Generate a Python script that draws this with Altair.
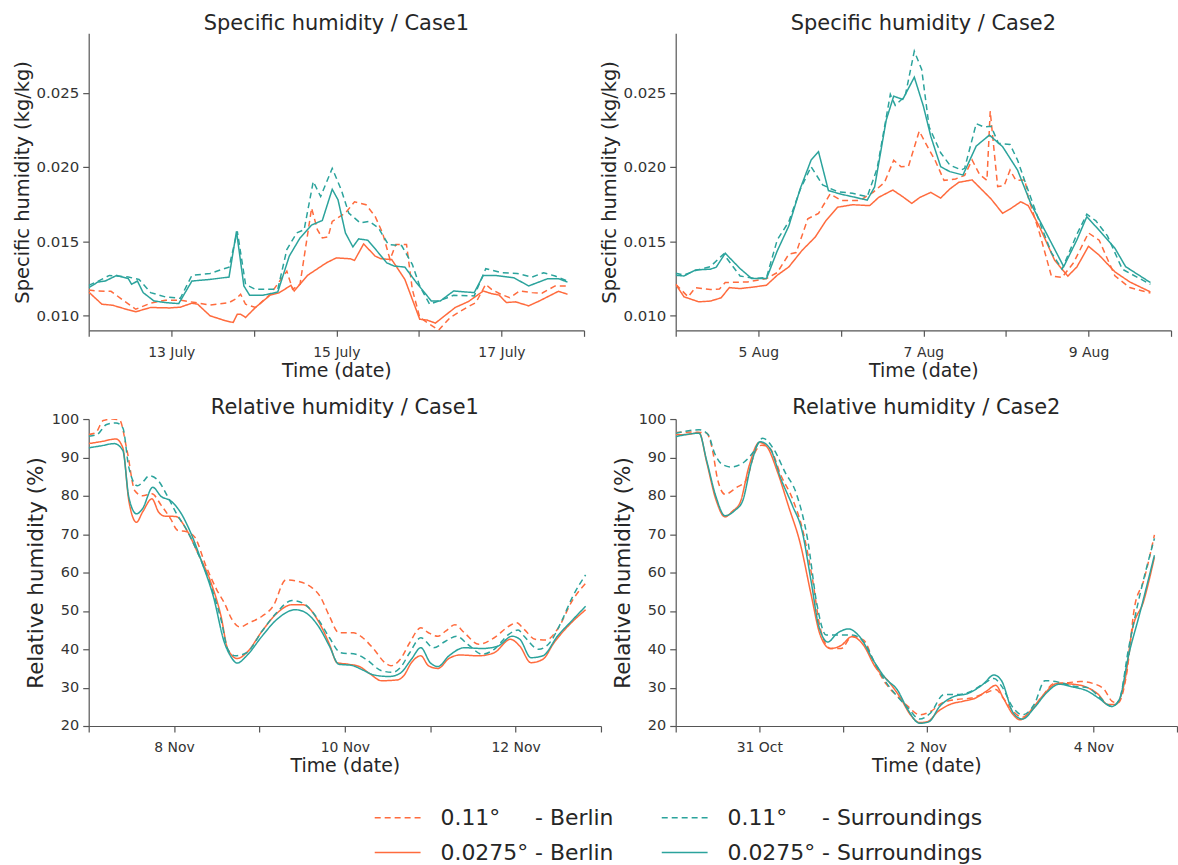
import altair as alt
import pandas as pd

# ---------------- series names / styles ----------------
SERIES = [
    "0.11°\u00a0\u00a0\u00a0\u00a0\u00a0- Berlin",
    "0.0275° - Berlin",
    "0.11°\u00a0\u00a0\u00a0\u00a0\u00a0- Surroundings",
    "0.0275° - Surroundings",
]
COLORS = ["#FF6B3D", "#FF6B3D", "#2BA39C", "#2BA39C"]
DASHES = [[6, 4], [1, 0], [6, 4], [1, 0]]

# ---------------- Specific humidity / Case1 (start 12 July) ----------------
SH1_START = "2019-07-12"
SH1_BER011_T = [0, 0.11, 0.27, 0.39, 0.57, 0.75, 0.93, 1.11, 1.29, 1.47, 1.70, 1.79, 1.84, 1.90, 2.02, 2.20, 2.40, 2.47, 2.56, 2.70, 2.77, 2.83, 2.90, 2.95, 3.11, 3.22, 3.36, 3.47, 3.56, 3.65, 3.72, 3.85, 3.92, 4.01, 4.13, 4.24, 4.38, 4.58, 4.69, 4.81, 4.88, 4.99, 5.10, 5.22, 5.37, 5.49, 5.65, 5.80]
SH1_BER011_V = [0.01172, 0.01165, 0.01163, 0.01114, 0.01042, 0.01083, 0.01103, 0.01103, 0.01087, 0.01071, 0.01087, 0.01114, 0.01143, 0.01076, 0.01054, 0.01143, 0.01299, 0.01176, 0.0121, 0.01723, 0.01578, 0.01522, 0.01529, 0.01634, 0.0169, 0.01766, 0.01746, 0.01667, 0.01556, 0.01377, 0.01478, 0.01478, 0.01176, 0.00987, 0.00942, 0.00902, 0.00987, 0.01054, 0.01087, 0.0121, 0.01176, 0.01143, 0.0112, 0.01165, 0.01154, 0.0115, 0.01199, 0.01199]
SH1_SUR011_T = [0, 0.11, 0.25, 0.48, 0.61, 0.75, 0.93, 1.11, 1.25, 1.47, 1.70, 1.80, 1.90, 2.02, 2.29, 2.40, 2.52, 2.61, 2.72, 2.81, 2.95, 3.06, 3.15, 3.29, 3.40, 3.51, 3.63, 3.79, 3.92, 4.01, 4.13, 4.24, 4.42, 4.67, 4.81, 5.01, 5.19, 5.37, 5.51, 5.65, 5.80]
SH1_SUR011_V = [0.01203, 0.0123, 0.0127, 0.01259, 0.01243, 0.01154, 0.01125, 0.01116, 0.0127, 0.01283, 0.01326, 0.01567, 0.0121, 0.01176, 0.01176, 0.01444, 0.01556, 0.01578, 0.01902, 0.01801, 0.01991, 0.01846, 0.0169, 0.01623, 0.01634, 0.01589, 0.01478, 0.01471, 0.01344, 0.01199, 0.01076, 0.01098, 0.01136, 0.01132, 0.01315, 0.01288, 0.01283, 0.01259, 0.01288, 0.01266, 0.01232]
SH1_BER0275_T = [0, 0.16, 0.29, 0.48, 0.57, 0.75, 0.98, 1.11, 1.25, 1.32, 1.47, 1.66, 1.75, 1.80, 1.84, 1.90, 2.02, 2.20, 2.31, 2.45, 2.49, 2.65, 2.88, 3.00, 3.17, 3.22, 3.33, 3.47, 3.54, 3.67, 3.83, 4.01, 4.10, 4.20, 4.44, 4.60, 4.78, 4.88, 4.97, 5.06, 5.17, 5.33, 5.46, 5.69, 5.80]
SH1_BER0275_V = [0.01158, 0.01076, 0.01069, 0.01038, 0.01025, 0.01054, 0.01051, 0.01056, 0.01083, 0.01076, 0.00998, 0.00964, 0.00953, 0.01009, 0.01009, 0.00987, 0.01054, 0.01138, 0.01154, 0.01203, 0.01165, 0.0127, 0.01355, 0.01388, 0.01382, 0.01371, 0.01482, 0.0140, 0.01382, 0.01377, 0.01243, 0.00975, 0.00969, 0.00949, 0.01054, 0.01094, 0.01165, 0.01147, 0.01138, 0.01087, 0.01092, 0.01065, 0.01098, 0.01163, 0.01143]
SH1_SUR0275_T = [0, 0.11, 0.20, 0.34, 0.48, 0.52, 0.59, 0.66, 0.79, 0.93, 1.09, 1.25, 1.47, 1.70, 1.79, 1.88, 1.95, 2.11, 2.29, 2.43, 2.56, 2.70, 2.83, 2.95, 3.02, 3.11, 3.20, 3.27, 3.38, 3.47, 3.61, 3.70, 3.83, 3.97, 4.15, 4.26, 4.42, 4.67, 4.78, 4.92, 5.15, 5.33, 5.56, 5.69, 5.80]
SH1_SUR0275_V = [0.01187, 0.01225, 0.01232, 0.0127, 0.01248, 0.0121, 0.01232, 0.01154, 0.01098, 0.01087, 0.0108, 0.01232, 0.01243, 0.01259, 0.01567, 0.01199, 0.01136, 0.01136, 0.01158, 0.014, 0.01522, 0.01609, 0.0164, 0.0185, 0.01779, 0.01556, 0.01462, 0.01516, 0.01507, 0.01449, 0.01355, 0.01333, 0.01326, 0.01221, 0.01098, 0.01098, 0.01165, 0.01154, 0.0127, 0.0127, 0.01254, 0.01199, 0.01248, 0.01248, 0.01225]

# ---------------- Specific humidity / Case2 (start 4 Aug) ----------------
SH2_START = "2019-08-04"
SH2_BER011_T = [0, 0.15, 0.24, 0.42, 0.53, 0.60, 0.87, 1.10, 1.23, 1.37, 1.46, 1.60, 1.73, 1.87, 2.01, 2.23, 2.39, 2.53, 2.64, 2.73, 2.82, 2.95, 3.05, 3.14, 3.25, 3.39, 3.50, 3.59, 3.68, 3.77, 3.81, 3.90, 3.98, 4.05, 4.12, 4.23, 4.27, 4.41, 4.55, 4.68, 4.82, 5.00, 5.13, 5.32, 5.50, 5.75]
SH2_BER011_V = [0.0121, 0.01126, 0.01188, 0.01175, 0.01179, 0.01222, 0.01226, 0.01249, 0.01289, 0.01413, 0.01424, 0.01651, 0.01688, 0.01818, 0.01774, 0.01774, 0.01829, 0.01897, 0.02045, 0.02002, 0.02006, 0.02242, 0.02137, 0.02047, 0.0191, 0.01919, 0.01944, 0.02047, 0.01951, 0.0191, 0.02376, 0.01868, 0.01875, 0.0198, 0.0191, 0.01913, 0.01796, 0.0155, 0.01267, 0.01256, 0.01356, 0.01556, 0.01507, 0.01267, 0.01188, 0.01151]
SH2_SUR011_T = [0, 0.10, 0.24, 0.42, 0.58, 0.78, 0.96, 1.10, 1.23, 1.37, 1.51, 1.64, 1.78, 1.96, 2.14, 2.32, 2.44, 2.60, 2.66, 2.78, 2.89, 2.98, 3.07, 3.21, 3.32, 3.46, 3.50, 3.64, 3.73, 3.82, 3.91, 4.05, 4.14, 4.25, 4.41, 4.55, 4.68, 4.86, 4.98, 5.09, 5.23, 5.41, 5.75]
SH2_SUR011_V = [0.01285, 0.01272, 0.01303, 0.01329, 0.01414, 0.01266, 0.01249, 0.01256, 0.01509, 0.01632, 0.0185, 0.02002, 0.01879, 0.01834, 0.01823, 0.018, 0.01991, 0.02489, 0.02415, 0.02478, 0.0278, 0.02657, 0.02269, 0.02096, 0.02013, 0.0198, 0.01991, 0.02292, 0.0227, 0.02274, 0.02159, 0.02152, 0.02047, 0.01872, 0.01626, 0.01424, 0.01312, 0.01547, 0.01682, 0.01637, 0.01536, 0.01312, 0.0121]
SH2_BER0275_T = [0, 0.10, 0.28, 0.42, 0.55, 0.65, 0.78, 0.96, 1.10, 1.23, 1.37, 1.53, 1.69, 1.82, 1.96, 2.14, 2.35, 2.46, 2.63, 2.75, 2.86, 2.96, 3.09, 3.21, 3.32, 3.43, 3.59, 3.68, 3.82, 3.96, 4.05, 4.18, 4.27, 4.41, 4.59, 4.75, 4.86, 5.00, 5.13, 5.32, 5.50, 5.75]
SH2_BER0275_V = [0.0121, 0.01126, 0.01092, 0.01097, 0.01119, 0.01188, 0.01181, 0.01193, 0.01204, 0.01271, 0.01327, 0.01438, 0.01528, 0.01639, 0.01729, 0.01746, 0.0174, 0.01796, 0.01845, 0.018, 0.01755, 0.01796, 0.01829, 0.01791, 0.01852, 0.01897, 0.01913, 0.01863, 0.01785, 0.01688, 0.01717, 0.01766, 0.0174, 0.01594, 0.01372, 0.01265, 0.01327, 0.01466, 0.01406, 0.01294, 0.01226, 0.01159]
SH2_SUR0275_T = [0, 0.10, 0.24, 0.42, 0.49, 0.60, 0.78, 0.92, 1.10, 1.23, 1.37, 1.51, 1.64, 1.73, 1.85, 2.01, 2.14, 2.32, 2.41, 2.55, 2.64, 2.75, 2.89, 3.00, 3.09, 3.21, 3.32, 3.48, 3.64, 3.80, 3.96, 4.14, 4.30, 4.50, 4.70, 4.86, 4.98, 5.09, 5.32, 5.45, 5.75]
SH2_SUR0275_V = [0.01271, 0.01266, 0.01307, 0.01312, 0.01325, 0.01419, 0.01316, 0.01249, 0.01249, 0.01435, 0.01603, 0.01856, 0.02047, 0.02103, 0.01841, 0.01816, 0.018, 0.01777, 0.01866, 0.02316, 0.02477, 0.02455, 0.02605, 0.0241, 0.02206, 0.02002, 0.01969, 0.01946, 0.02141, 0.02215, 0.02137, 0.0198, 0.01756, 0.01543, 0.01329, 0.01509, 0.01665, 0.01598, 0.01453, 0.01329, 0.01222]

# ---------------- Relative humidity / Case1 (start 7 Nov) ----------------
RH1_START = "2019-11-07"
RH1_BER011_T = [0, 0.08, 0.17, 0.28, 0.36, 0.45, 0.54, 0.63, 0.74, 0.85, 0.96, 1.04, 1.15, 1.24, 1.37, 1.50, 1.59, 1.68, 1.77, 1.88, 2.03, 2.16, 2.31, 2.47, 2.60, 2.71, 2.82, 2.93, 3.10, 3.21, 3.34, 3.47, 3.54, 3.65, 3.76, 3.89, 3.98, 4.09, 4.18, 4.29, 4.40, 4.57, 4.75, 4.92, 5.01, 5.10, 5.23, 5.36, 5.49, 5.67, 5.82]
RH1_BER011_V = [96.0, 96.4, 99.6, 100.0, 99.8, 91.7, 81.3, 80.0, 80.5, 77.5, 74.0, 71.0, 70.6, 69.3, 61.9, 55.5, 52.0, 47.7, 45.8, 46.9, 48.6, 51.2, 58.1, 57.6, 56.3, 53.8, 48.6, 44.3, 44.3, 43.0, 40.0, 36.5, 35.7, 37.4, 41.7, 45.6, 44.3, 43.4, 44.7, 46.4, 44.3, 41.3, 43.0, 46.0, 46.9, 45.2, 42.6, 42.4, 45.2, 52.9, 57.2]
RH1_SUR011_T = [0, 0.10, 0.21, 0.32, 0.40, 0.47, 0.57, 0.63, 0.71, 0.80, 0.93, 1.02, 1.15, 1.28, 1.42, 1.55, 1.63, 1.72, 1.85, 2.03, 2.20, 2.38, 2.51, 2.69, 2.82, 2.95, 3.13, 3.26, 3.43, 3.56, 3.65, 3.76, 3.89, 4.04, 4.18, 4.31, 4.44, 4.61, 4.75, 4.92, 5.03, 5.10, 5.27, 5.40, 5.53, 5.67, 5.82]
RH1_SUR011_V = [95.5, 96.0, 98.6, 99.0, 97.7, 87.4, 82.6, 83.5, 85.2, 84.3, 79.6, 75.7, 71.0, 65.0, 57.2, 47.7, 40.0, 38.3, 39.1, 44.7, 49.5, 52.7, 52.0, 47.7, 43.0, 39.1, 38.7, 37.2, 34.4, 34.0, 35.2, 39.1, 43.0, 40.4, 42.1, 43.4, 41.3, 38.7, 40.0, 43.9, 45.0, 43.4, 40.0, 41.7, 46.9, 53.8, 59.4]
RH1_BER0275_T = [0, 0.14, 0.32, 0.40, 0.47, 0.56, 0.63, 0.74, 0.82, 0.89, 1.02, 1.15, 1.28, 1.42, 1.55, 1.63, 1.74, 1.85, 2.03, 2.20, 2.38, 2.51, 2.69, 2.82, 2.91, 3.04, 3.17, 3.30, 3.43, 3.61, 3.69, 3.78, 3.89, 3.98, 4.09, 4.22, 4.35, 4.57, 4.75, 4.94, 5.05, 5.18, 5.32, 5.45, 5.58, 5.82]
RH1_BER0275_V = [93.6, 94.1, 94.8, 92.5, 78.7, 73.1, 75.7, 79.2, 75.7, 74.7, 74.6, 71.0, 65.0, 58.1, 48.6, 40.0, 37.6, 39.1, 44.7, 49.3, 51.6, 51.6, 47.3, 41.3, 36.5, 36.1, 35.5, 33.5, 31.8, 32.0, 33.1, 36.5, 38.3, 35.7, 35.0, 37.6, 38.5, 38.3, 39.1, 42.6, 40.8, 36.5, 37.4, 41.7, 45.2, 50.3]
RH1_SUR0275_T = [0, 0.14, 0.30, 0.40, 0.47, 0.56, 0.63, 0.75, 0.85, 0.96, 1.06, 1.20, 1.33, 1.46, 1.59, 1.66, 1.74, 1.85, 2.03, 2.20, 2.42, 2.51, 2.69, 2.82, 2.93, 3.08, 3.21, 3.34, 3.52, 3.65, 3.78, 3.89, 4.00, 4.09, 4.22, 4.40, 4.61, 4.79, 4.96, 5.05, 5.18, 5.32, 5.49, 5.67, 5.82]
RH1_SUR0275_V = [92.5, 93.0, 93.6, 91.8, 79.6, 75.3, 76.6, 82.2, 79.8, 78.7, 76.2, 70.1, 62.4, 53.8, 41.7, 38.3, 36.4, 38.3, 43.4, 47.7, 50.3, 49.9, 46.0, 40.8, 36.1, 35.8, 34.6, 33.3, 32.9, 33.8, 37.4, 40.4, 36.5, 35.5, 38.3, 40.4, 40.2, 40.8, 43.4, 42.6, 37.8, 38.3, 43.4, 47.7, 51.2]

# ---------------- Relative humidity / Case2 (start 30 Oct) ----------------
RH2_START = "2019-10-30"
RH2_BER011_T = [0, 0.19, 0.37, 0.44, 0.50, 0.59, 0.73, 0.84, 0.95, 1.03, 1.13, 1.26, 1.40, 1.53, 1.64, 1.73, 1.85, 1.98, 2.11, 2.25, 2.38, 2.52, 2.65, 2.78, 2.92, 3.05, 3.19, 3.36, 3.54, 3.72, 3.83, 3.92, 4.04, 4.15, 4.26, 4.39, 4.53, 4.70, 4.84, 5.02, 5.13, 5.22, 5.29, 5.40, 5.49, 5.60, 5.73]
RH2_BER011_V = [96.5, 96.6, 96.3, 91.9, 84.4, 80.4, 82.2, 83.9, 91.4, 93.2, 92.3, 85.3, 79.1, 70.2, 57.8, 45.5, 40.2, 40.2, 43.3, 42.4, 36.2, 30.9, 27.8, 25.1, 22.9, 23.8, 26.0, 26.9, 27.3, 28.7, 29.5, 27.3, 23.8, 22.3, 24.2, 27.8, 31.1, 31.3, 31.6, 30.9, 29.5, 26.5, 26.0, 34.0, 50.8, 57.8, 69.8]
RH2_SUR011_T = [0, 0.28, 0.39, 0.46, 0.55, 0.66, 0.82, 0.93, 1.04, 1.18, 1.31, 1.44, 1.58, 1.69, 1.80, 1.93, 2.11, 2.25, 2.38, 2.52, 2.65, 2.78, 2.92, 3.05, 3.21, 3.36, 3.54, 3.68, 3.81, 3.90, 4.04, 4.15, 4.29, 4.42, 4.57, 4.75, 4.93, 5.06, 5.22, 5.31, 5.42, 5.53, 5.73]
RH2_SUR011_V = [96.3, 97.2, 95.9, 91.4, 88.3, 87.5, 88.8, 91.4, 95.0, 91.9, 86.1, 80.8, 68.5, 51.7, 43.7, 43.7, 43.7, 41.9, 36.6, 31.3, 27.8, 24.7, 21.8, 23.4, 28.2, 28.2, 29.1, 30.9, 32.4, 30.4, 24.7, 22.9, 25.6, 31.8, 31.5, 30.4, 30.0, 27.8, 25.1, 26.9, 40.2, 51.7, 68.9]
RH2_BER0275_T = [0, 0.15, 0.28, 0.37, 0.48, 0.59, 0.68, 0.77, 0.88, 1.00, 1.09, 1.22, 1.35, 1.49, 1.62, 1.73, 1.85, 1.98, 2.11, 2.25, 2.38, 2.56, 2.69, 2.81, 2.92, 3.01, 3.14, 3.28, 3.45, 3.59, 3.72, 3.83, 3.92, 4.04, 4.12, 4.24, 4.39, 4.57, 4.75, 4.93, 5.06, 5.17, 5.26, 5.38, 5.46, 5.60, 5.73]
RH2_BER0275_V = [95.9, 96.0, 96.5, 88.8, 79.1, 74.5, 76.0, 78.2, 87.9, 93.9, 92.8, 86.1, 77.3, 67.6, 54.3, 43.7, 40.2, 41.0, 43.3, 41.0, 35.7, 31.3, 27.3, 22.9, 20.9, 21.1, 23.8, 25.6, 26.5, 27.3, 29.1, 30.6, 27.3, 22.9, 21.6, 23.8, 27.8, 31.1, 30.9, 30.0, 28.2, 25.6, 25.6, 32.2, 44.6, 52.5, 64.0]
RH2_SUR0275_T = [0, 0.28, 0.37, 0.48, 0.59, 0.71, 0.80, 0.91, 1.01, 1.13, 1.26, 1.40, 1.51, 1.62, 1.71, 1.82, 1.93, 2.07, 2.20, 2.38, 2.52, 2.65, 2.78, 2.92, 3.03, 3.16, 3.32, 3.50, 3.68, 3.81, 3.90, 4.04, 4.15, 4.29, 4.44, 4.59, 4.75, 4.93, 5.06, 5.22, 5.31, 5.42, 5.55, 5.73]
RH2_SUR0275_V = [95.4, 96.3, 89.2, 79.9, 74.8, 76.2, 78.6, 88.8, 94.1, 92.3, 84.4, 77.3, 71.1, 57.8, 46.3, 41.9, 44.1, 45.3, 43.3, 36.6, 32.2, 29.5, 24.2, 20.7, 21.1, 25.1, 27.6, 28.5, 30.9, 33.3, 31.8, 23.4, 21.8, 24.7, 28.7, 30.9, 30.2, 29.1, 27.3, 25.1, 26.9, 38.4, 49.0, 64.5]

# ---------------- axis tick labels ----------------
SH1_XLABELS = ["13 July", "15 July", "17 July"]
SH2_XLABELS = ["5 Aug", "7 Aug", "9 Aug"]
RH1_XLABELS = ["8 Nov", "10 Nov", "12 Nov"]
RH2_XLABELS = ["31 Oct", "2 Nov", "4 Nov"]
SH_YTICKS = [0.010, 0.015, 0.020, 0.025]
RH_YTICKS = [20, 30, 40, 50, 60, 70, 80, 90, 100]

FONT = "DejaVu Sans"


def frame(start, pairs):
    base = pd.Timestamp(start)
    rows = []
    for name, (t, v) in zip(SERIES, pairs):
        assert len(t) == len(v), name
        for ti, vi in zip(t, v):
            ts = base + pd.Timedelta(minutes=round(ti * 1440))
            rows.append({"time": ts.strftime("%Y-%m-%dT%H:%M:%S"), "value": vi, "series": name})
    return pd.DataFrame(rows)


def dt(ts):
    return alt.DateTime(year=ts.year, month=ts.month, date=ts.day, hours=0)


LEGEND = alt.Legend(
    title=None, orient="none", legendX=286, legendY=763, columns=2,
    symbolType="stroke", symbolSize=2116, symbolStrokeWidth=1.6,
    labelFontSize=22, labelFont=FONT, labelColor="#262626", labelOffset=19,
    columnPadding=44, rowPadding=-11, labelLimit=500, padding=0,
)


def panel(df, title, start, labels, fmt, ytitle, ydomain, yticks, yfmt,
          width, height, ytitle_size, ylabel_size, ytitle_pad, interp, title_dy):
    base = pd.Timestamp(start)
    days = [base + pd.Timedelta(days=i) for i in range(7)]
    lab = ",".join("'" + s + "'" for s in labels)
    expr = (f"indexof([{lab}], timeFormat(datum.value, '{fmt}')) >= 0 ? "
            f"timeFormat(datum.value, '{fmt}') : ''")
    x = alt.X(
        "time:T", title="Time (date)",
        scale=alt.Scale(domain=[dt(days[0]), dt(days[-1])]),
        axis=alt.Axis(values=[dt(d) for d in days], labelExpr=expr, tickSize=6,
                      labelFontSize=14, labelPadding=9, titleFontSize=19,
                      titlePadding=2, labelFlush=False, labelOverlap=False),
    )
    y = alt.Y(
        "value:Q", title=ytitle,
        scale=alt.Scale(domain=ydomain, nice=False, zero=False),
        axis=alt.Axis(values=yticks, format=yfmt, tickSize=6, labelPadding=4,
                      labelFontSize=ylabel_size, titleFontSize=ytitle_size,
                      titlePadding=ytitle_pad),
    )
    return alt.Chart(df).mark_line(strokeWidth=1.5, clip=True, interpolate=interp).encode(
        x=x, y=y,
        color=alt.Color("series:N", scale=alt.Scale(domain=SERIES, range=COLORS), legend=LEGEND),
        strokeDash=alt.StrokeDash("series:N", scale=alt.Scale(domain=SERIES, range=DASHES), legend=LEGEND),
    ).properties(
        width=width, height=height,
        title=alt.Title(title, fontSize=21, fontWeight="normal", font=FONT,
                        color="#262626", offset=1, frame="group", dy=title_dy),
    )


sh1 = frame(SH1_START, [(SH1_BER011_T, SH1_BER011_V), (SH1_BER0275_T, SH1_BER0275_V),
                        (SH1_SUR011_T, SH1_SUR011_V), (SH1_SUR0275_T, SH1_SUR0275_V)])
sh2 = frame(SH2_START, [(SH2_BER011_T, SH2_BER011_V), (SH2_BER0275_T, SH2_BER0275_V),
                        (SH2_SUR011_T, SH2_SUR011_V), (SH2_SUR0275_T, SH2_SUR0275_V)])
rh1 = frame(RH1_START, [(RH1_BER011_T, RH1_BER011_V), (RH1_BER0275_T, RH1_BER0275_V),
                        (RH1_SUR011_T, RH1_SUR011_V), (RH1_SUR0275_T, RH1_SUR0275_V)])
rh2 = frame(RH2_START, [(RH2_BER011_T, RH2_BER011_V), (RH2_BER0275_T, RH2_BER0275_V),
                        (RH2_SUR011_T, RH2_SUR011_V), (RH2_SUR0275_T, RH2_SUR0275_V)])

p1 = panel(sh1, "Specific humidity / Case1", SH1_START, SH1_XLABELS, "%-d %B",
           "Specific humidity (kg/kg)", [0.009, 0.029], SH_YTICKS, ".3f",
           497, 298, 19.5, 15, 3, "linear", 2)
p2 = panel(sh2, "Specific humidity / Case2", SH2_START, SH2_XLABELS, "%-d %b",
           "Specific humidity (kg/kg)", [0.009, 0.029], SH_YTICKS, ".3f",
           497, 298, 19.5, 15, 3, "linear", 2)
p3 = panel(rh1, "Relative humidity / Case1", RH1_START, RH1_XLABELS, "%-d %b",
           "Relative humidity (%)", [20, 100], RH_YTICKS, "d",
           514, 308, 21.5, 14.5, 4, "monotone", 8)
p4 = panel(rh2, "Relative humidity / Case2", RH2_START, RH2_XLABELS, "%-d %b",
           "Relative humidity (%)", [20, 100], RH_YTICKS, "d",
           503, 308, 21.5, 14.5, 4, "monotone", 8)

chart = alt.concat(
    p1, p2, p3, p4, columns=2, bounds="flush", spacing={"row": 89, "column": 75}
).configure(
    font=FONT, padding={"left": 13, "top": 12, "right": 0, "bottom": 0}, background="white",
).configure_view(stroke=None).configure_axis(
    grid=False, domainColor="#555555", tickColor="#555555", labelColor="#333333",
    titleColor="#262626", titleFontWeight="normal", labelFont=FONT, titleFont=FONT,
    domainWidth=1.2, tickWidth=1.2,
)

chart.save("out.html", embed_options={"renderer": "svg", "actions": False})
